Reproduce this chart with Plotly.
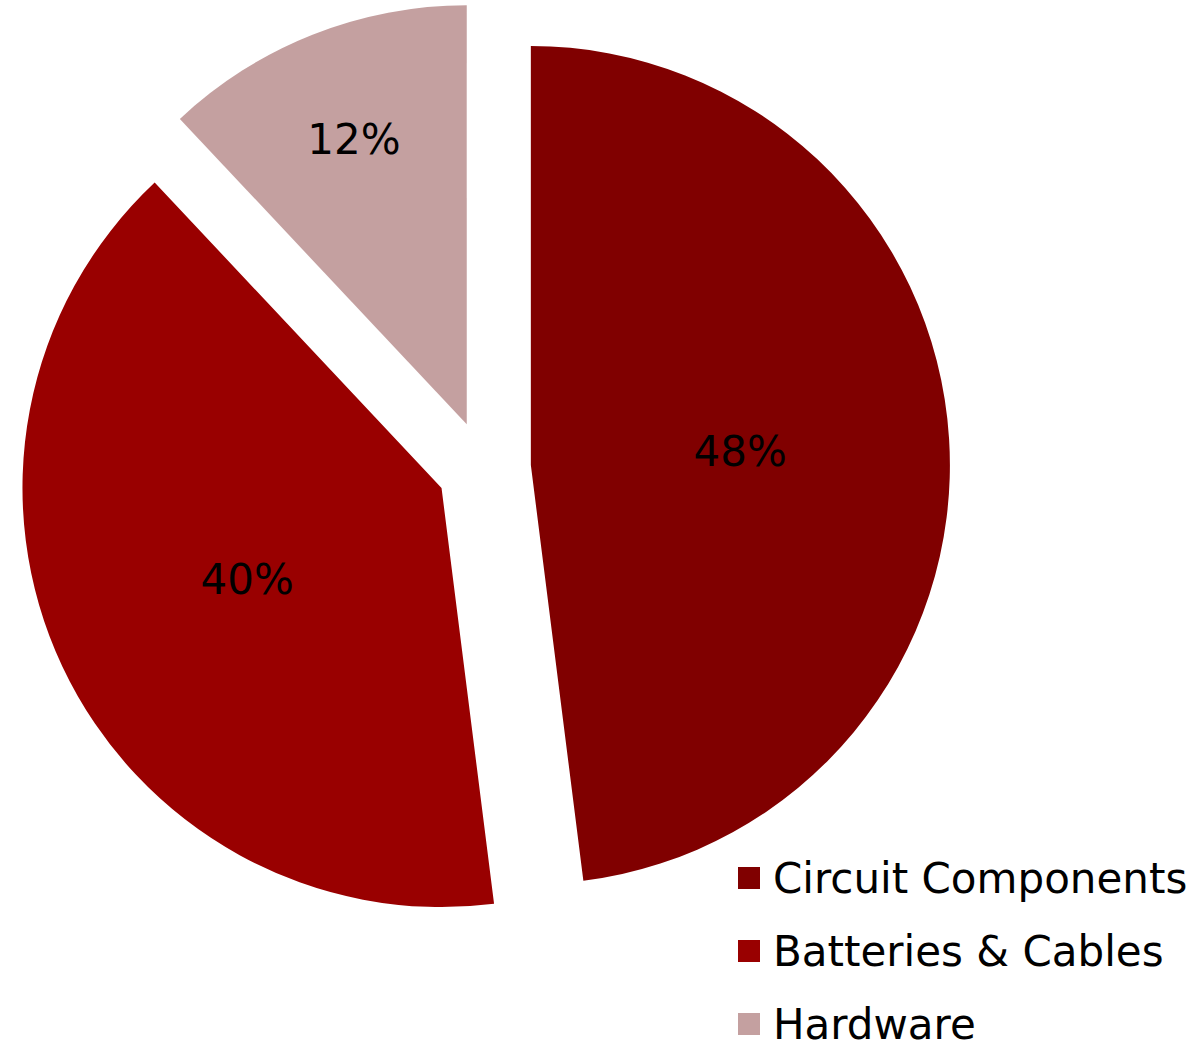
import plotly.graph_objects as go

# Spending breakdown by category
categories = ["Circuit Components", "Batteries & Cables", "Hardware"]
shares = [48, 40, 12]
colors = ["#800000", "#990000", "#C4A0A0"]

W, H = 1193, 1042
M = dict(l=18, r=243, t=2, b=108)
PW = W - M["l"] - M["r"]
PH = H - M["t"] - M["b"]
FONT = "DejaVu Sans ExtraLight, DejaVu Sans"


def px_to_paper_x(px):
    return (px - M["l"]) / PW


def px_to_paper_y(py):
    return 1 - (py - M["t"]) / PH


fig = go.Figure(
    go.Pie(
        labels=categories,
        values=shares,
        sort=False,
        direction="clockwise",
        rotation=0,
        pull=[0.112] * len(shares),
        marker=dict(colors=colors, line=dict(width=0)),
        texttemplate="%{percent:.0%}",
        textposition="inside",
        insidetextorientation="horizontal",
        textfont=dict(family=FONT, size=42, color="black"),
        showlegend=False,
        hoverinfo="label+percent",
    )
)

# Legend drawn as square swatches with labels, stacked bottom right
sq = 22
for i, (name, col) in enumerate(zip(categories, colors)):
    cy = 878 + 73 * i
    fig.add_shape(
        type="rect",
        xref="paper", yref="paper",
        x0=px_to_paper_x(738), x1=px_to_paper_x(738 + sq),
        y0=px_to_paper_y(cy - sq / 2), y1=px_to_paper_y(cy + sq / 2),
        fillcolor=col, line=dict(width=0),
    )
    fig.add_annotation(
        xref="paper", yref="paper",
        x=px_to_paper_x(771), y=px_to_paper_y(cy),
        xanchor="left", yanchor="middle",
        text=name, showarrow=False,
        font=dict(family=FONT, size=42, color="black"),
    )

fig.update_layout(
    width=W, height=H,
    margin=M,
    paper_bgcolor="white",
    plot_bgcolor="white",
)

fig.write_html("out.html")
